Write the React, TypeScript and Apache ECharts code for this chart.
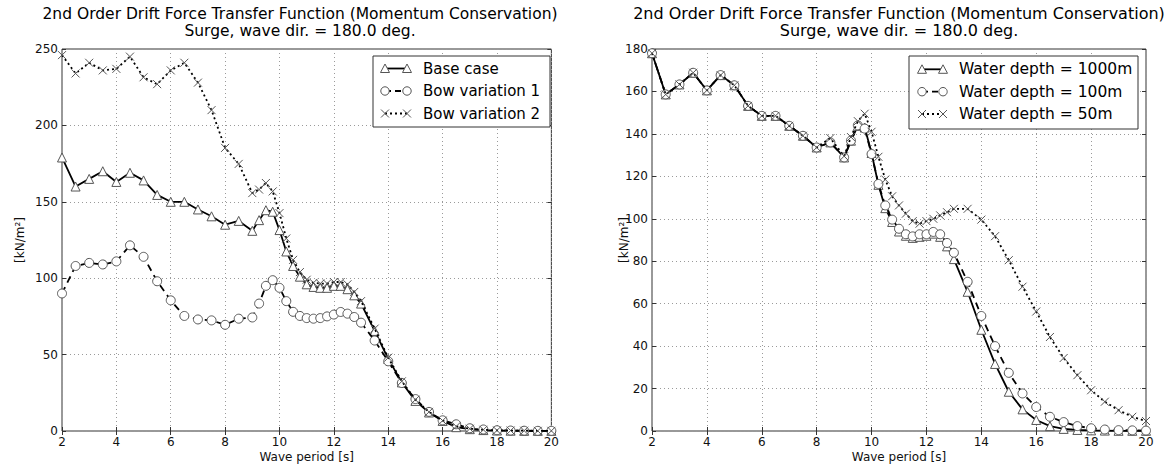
import React, { useEffect, useRef } from "react";
import * as echarts from "echarts";

// ---------- data ----------
const periods = [
  2, 2.5, 3, 3.5, 4, 4.5, 5, 5.5, 6, 6.5, 7, 7.5, 8, 8.5, 9,
  9.25, 9.5, 9.75, 10, 10.25, 10.5, 10.75, 11, 11.25, 11.5, 11.75, 12, 12.25, 12.5, 12.75, 13,
  13.5, 14, 14.5, 15, 15.5, 16, 16.5, 17, 17.5, 18, 18.5, 19, 19.5, 20,
];

const baseCase = [
  179, 160, 165, 170, 163, 169, 164, 154.5, 150, 150, 145, 140.5, 135, 137.5, 131,
  138, 144.5, 143.5, 131.5, 117.5, 108, 101, 96, 94.3, 93.7, 93.7, 95, 95, 92.8, 88.8, 83.4,
  65.5, 47.2, 31.8, 19.7, 12.1, 6.6, 2.5, 1.2, 0.6, 0.3, 0.2, 0.1, 0.1, 0.1,
];
const bowVariation1 = [
  90, 108, 110, 109, 111, 121.5, 114, 98, 85.5, 75.3, 73, 72.4, 69.5, 73.5, 74.3,
  83.4, 95, 98.7, 93.7, 85, 78, 75.3, 73.9, 73.5, 73.9, 75, 76.2, 77.9, 76.8, 74.6, 70.9,
  59.2, 45.6, 31.4, 20.9, 12.5, 7, 4.4, 1.8, 1, 0.5, 0.3, 0.2, 0.1, 0.1,
];
const bowVariation2 = [
  246, 234, 241, 236, 237, 245, 231.5, 227, 236, 241, 228, 210, 185.3, 174.8, 155.7,
  158, 162.3, 156.8, 142.6, 126, 112, 104, 99, 97, 96.5, 96.5, 97.5, 97.5, 96, 91, 85,
  67, 48, 32.5, 20.5, 12.5, 6.8, 3, 1.5, 0.8, 0.4, 0.3, 0.2, 0.1, 0.1,
];

const depth1000 = [
  178, 158.6, 163.3, 168.8, 160.5, 167.7, 162.9, 153.2, 148.5, 148.5, 143.8, 139.1, 133.6, 136, 128.9,
  136.8, 143.8, 143, 131, 116, 105, 98.5, 94, 92, 91, 91.5, 92, 93, 91.5, 87, 81,
  65.6, 47.7, 31.6, 18.5, 10.2, 5.2, 2.3, 1, 0.5, 0.3, 0.2, 0.1, 0.1, 0.1,
];
const depth100 = [
  178, 158.6, 163.3, 168.8, 160.5, 167.7, 162.9, 153.2, 148.5, 148.5, 143.8, 139.1, 133.6, 136, 128.9,
  136.8, 144, 142.5, 130.5, 116.4, 106.3, 99.6, 95.3, 92.7, 91.7, 92.7, 92.7, 93.8, 92.7, 88.6, 84,
  70.3, 54.2, 40, 27.4, 17.7, 11.3, 6.7, 4.2, 2.3, 1.3, 0.7, 0.4, 0.3, 0.2,
];
const depth50 = [
  178, 158.6, 163.3, 168.8, 160.5, 167.7, 162.9, 153.2, 148.5, 148.5, 143.8, 139.1, 133.6, 138, 129.5,
  138.5, 146, 149.5, 141, 129.2, 118.5, 110.6, 106.3, 102.4, 98.9, 97.7, 98.9, 100, 101.6, 103.1, 104.7,
  104.7, 99.6, 91.8, 80.5, 68, 56.3, 44.3, 34.4, 26.3, 19.2, 13.8, 9.8, 6.7, 4.7,
];

const titleLine1 = "2nd Order Drift Force Transfer Function (Momentum Conservation)";
const titleLine2 = "Surge, wave dir. = 180.0 deg.";
const xName = "Wave period [s]";
const yName = "[kN/m²]";
const leftNames = ["Base case", "Bow variation 1", "Bow variation 2"];
const rightNames = ["Water depth = 1000m", "Water depth = 100m", "Water depth = 50m"];

// ---------- styles ----------
const FONT = "DejaVu Sans";
const XPATH = "path://M0,0L10,10M10,0L0,10";
const styles = [
  { symbol: "triangle", dash: "solid" as any, legendDash: null as any },
  { symbol: "circle", dash: [7, 5], legendDash: [6, 4] },
  { symbol: XPATH, dash: [2, 3], legendDash: [2, 3] },
];

function makeSeries(names: string[], values: number[][]) {
  return names.map((name, i) => ({
    name,
    type: "line",
    data: periods.map((p, k) => [p, values[i][k]]),
    symbol: styles[i].symbol,
    symbolSize: i === 2 ? 8 : 9,
    showSymbol: true,
    lineStyle: { color: "#000", width: 1.8, type: styles[i].dash },
    itemStyle: { color: "#fff", borderColor: "#555", borderWidth: 1 },
    z: 2 + i,
  }));
}

function legendGraphic(
  box: { x: number; y: number; w: number; h: number },
  m1: number,
  m2: number,
  tx: number,
  rows: number[],
  names: string[],
  fontSize: number
) {
  const els: any[] = [
    {
      type: "rect",
      shape: { x: box.x, y: box.y, width: box.w, height: box.h },
      style: { fill: "#fff", stroke: "#333", lineWidth: 1 },
      z: 10,
    },
  ];
  rows.forEach((y, i) => {
    els.push({
      type: "line",
      shape: { x1: m1, y1: y, x2: m2, y2: y },
      style: { stroke: "#000", lineWidth: 1.8, lineDash: styles[i].legendDash },
      z: 11,
    });
    [m1, m2].forEach((mx) => {
      if (i === 0) {
        els.push({
          type: "polygon",
          shape: { points: [[mx, y - 4.5], [mx + 4.5, y + 4], [mx - 4.5, y + 4]] },
          style: { fill: "#fff", stroke: "#555", lineWidth: 1 },
          z: 12,
        });
      } else if (i === 1) {
        els.push({
          type: "circle",
          shape: { cx: mx, cy: y, r: 4.2 },
          style: { fill: "#fff", stroke: "#555", lineWidth: 1 },
          z: 12,
        });
      } else {
        els.push({
          type: "line",
          shape: { x1: mx - 4, y1: y - 4, x2: mx + 4, y2: y + 4 },
          style: { stroke: "#555", lineWidth: 1 },
          z: 12,
        });
        els.push({
          type: "line",
          shape: { x1: mx - 4, y1: y + 4, x2: mx + 4, y2: y - 4 },
          style: { stroke: "#555", lineWidth: 1 },
          z: 12,
        });
      }
    });
    els.push({
      type: "text",
      x: tx,
      y: y,
      style: {
        text: names[i],
        fill: "#000",
        font: `${fontSize}px "${FONT}"`,
        textAlign: "left",
        textVerticalAlign: "middle",
        align: "left",
        verticalAlign: "middle",
      },
      z: 12,
    });
  });
  return els;
}

function makeOption(cfg: {
  gridLeft: number;
  gridRight: number;
  titleX: number;
  titleSize: number;
  yMax: number;
  yInterval: number;
  yNameGap: number;
  names: string[];
  values: number[][];
  legend: any[];
}) {
  const grid = { left: cfg.gridLeft, right: cfg.gridRight, top: 49, bottom: 36, show: true, borderColor: "#333", borderWidth: 1, backgroundColor: "#fff" };
  const tick = { show: true, inside: true, length: 4, lineStyle: { color: "#333", width: 1 } };
  const split = { show: true, lineStyle: { color: "#9a9a9a", width: 1, type: [1, 3] } };
  const label = { color: "#111", fontFamily: FONT, fontSize: 12 };
  return {
    animation: false,
    backgroundColor: "#fff",
    title: {
      text: titleLine1 + "\n" + titleLine2,
      left: cfg.titleX,
      top: 5,
      padding: 0,
      textAlign: "center",
      textStyle: { fontFamily: FONT, fontSize: cfg.titleSize, fontWeight: "normal", color: "#000", lineHeight: 17 },
    },
    grid,
    xAxis: [
      {
        type: "value", min: 2, max: 20, interval: 2, position: "bottom",
        axisLine: { show: false }, axisTick: tick, splitLine: split,
        axisLabel: { ...label, margin: 5 },
        name: xName, nameLocation: "middle", nameGap: 20, nameMoveOverlap: false,
        nameTextStyle: { fontFamily: FONT, fontSize: 12, color: "#111" },
      },
      {
        type: "value", min: 2, max: 20, interval: 2, position: "top",
        axisLine: { show: false }, axisTick: tick, splitLine: { show: false }, axisLabel: { show: false },
      },
    ],
    yAxis: [
      {
        type: "value", min: 0, max: cfg.yMax, interval: cfg.yInterval, position: "left",
        axisLine: { show: false }, axisTick: tick, splitLine: split,
        axisLabel: { ...label, margin: 4 },
        name: yName, nameLocation: "middle", nameGap: cfg.yNameGap, nameRotate: 90, nameMoveOverlap: false,
        nameTextStyle: { fontFamily: FONT, fontSize: 12, color: "#111" },
      },
      {
        type: "value", min: 0, max: cfg.yMax, interval: cfg.yInterval, position: "right",
        axisLine: { show: false }, axisTick: tick, splitLine: { show: false }, axisLabel: { show: false },
      },
    ],
    series: makeSeries(cfg.names, cfg.values),
    graphic: cfg.legend,
  };
}

function Chart({ option, left, width }: { option: any; left: number; width: number }) {
  const ref = useRef<HTMLDivElement>(null);
  useEffect(() => {
    if (!ref.current) return;
    const chart = echarts.init(ref.current, undefined, { renderer: "svg" });
    chart.setOption(option);
    return () => chart.dispose();
  }, [option]);
  return (
    <div
      ref={ref}
      style={{ position: "absolute", left, top: 0, width, height: 468, overflow: "hidden", background: "#fff" }}
    />
  );
}

const leftOption = makeOption({
  gridLeft: 62,
  gridRight: 3,
  titleX: 300,
  titleSize: 15.5,
  yMax: 250,
  yInterval: 50,
  yNameGap: 36,
  names: leftNames,
  values: [baseCase, bowVariation1, bowVariation2],
  legend: legendGraphic({ x: 373, y: 56, w: 177, h: 71 }, 385, 407, 423, [68.5, 91, 113.5], leftNames, 15),
});

const rightOption = makeOption({
  gridLeft: 90,
  gridRight: 26,
  titleX: 337,
  titleSize: 16,
  yMax: 180,
  yInterval: 20,
  yNameGap: 22,
  names: rightNames,
  values: [depth1000, depth100, depth50],
  legend: legendGraphic({ x: 347, y: 56, w: 229, h: 73 }, 360, 381, 397, [69.3, 91.7, 114], rightNames, 15.5),
});

export default function App() {
  return (
    <div style={{ position: "absolute", left: 0, top: 0, width: 1172, height: 468, background: "#fff", overflow: "hidden" }}>
      <Chart option={leftOption} left={0} width={562} />
      <Chart option={rightOption} left={562} width={610} />
    </div>
  );
}
